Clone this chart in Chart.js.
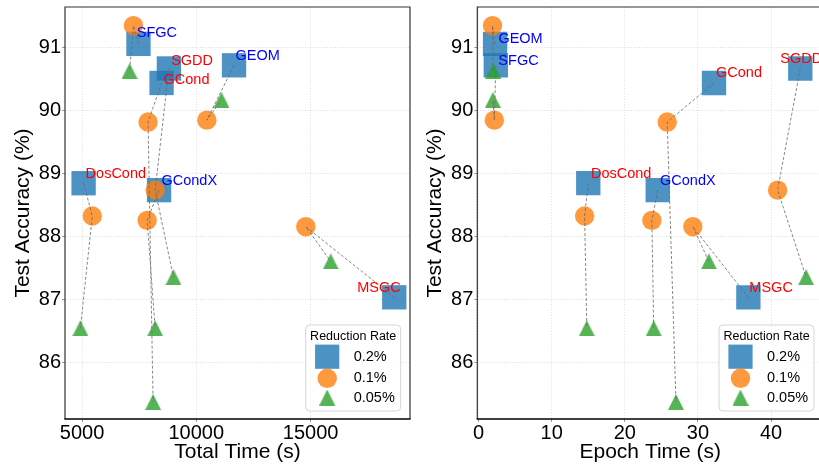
<!DOCTYPE html>
<html>
<head>
<meta charset="utf-8">
<script src="https://cdn.jsdelivr.net/npm/chart.js@4.4.1/dist/chart.umd.min.js"></script>
<style>
  html, body { margin: 0; padding: 0; background: #fff; overflow: hidden; width: 819px; height: 467px; }
  canvas { position: absolute; top: 0; }
  #totalChart { left: 0; }
  #epochChart { left: 410px; }
</style>
</head>
<body>
<canvas id="totalChart" width="412" height="467"></canvas>
<canvas id="epochChart" width="420" height="467"></canvas>
<script>
// Methods and reduction rates
var methods = ["SFGC", "SGDD", "GCond", "GEOM", "DosCond", "GCondX", "MSGC"];
var rates = ["0.2%", "0.1%", "0.05%"];

// Test accuracy (%) for each method at each rate
var acc02 = [91.05, 90.66, 90.43, 90.71, 88.84, 88.73, 87.03];
var acc01 = [91.34, 88.73, 89.81, 89.84, 88.32, 88.25, 88.15];
var acc005 = [90.62, 87.35, 85.37, 90.16, 86.54, 86.54, 87.60];

// Total time (s)
var total02 = [7470, 8800, 8480, 11650, 5070, 8370, 18660];
var total01 = [7250, 8200, 7890, 10460, 5450, 7850, 14790];
var total005 = [7080, 9000, 8110, 11100, 4930, 8200, 15880];

// Epoch time (s)
var epoch02 = [2.25, 44.0, 32.2, 2.35, 15.0, 24.5, 36.9];
var epoch01 = [1.9, 40.9, 25.8, 2.15, 14.5, 23.7, 29.3];
var epoch005 = [2.0, 44.8, 27.0, 1.95, 14.8, 23.95, 31.5];

// Tick values
var totalTicks = [5000, 10000, 15000];
var epochTicks = [0, 10, 20, 30, 40];
var accTicks = [86, 87, 88, 89, 90, 91];

// Styling
var FONT = "'Liberation Sans', Arial, sans-serif";
Chart.defaults.font.family = FONT;
var blueFill = "rgba(31,119,180,0.8)";
var orangeFill = "rgba(255,127,14,0.8)";
var greenFill = "rgba(44,160,44,0.8)";
var labelColor = { SFGC: "#0000ff", GEOM: "#0000ff", GCondX: "#0000ff",
                   SGDD: "#ff0000", GCond: "#ff0000", DosCond: "#ff0000", MSGC: "#ff0000" };

// matplotlib-like centered triangle marker
function makeTriangle(size, color) {
  var c = document.createElement("canvas");
  c.width = size; c.height = size;
  var g = c.getContext("2d");
  g.fillStyle = color;
  g.beginPath();
  g.moveTo(size / 2, 0);
  g.lineTo(size, size);
  g.lineTo(0, size);
  g.closePath();
  g.fill();
  return c;
}
var triangleImg = makeTriangle(16, greenFill);

function points(xs, ys) {
  return xs.map(function (x, i) { return { x: x, y: ys[i] }; });
}

function buildDatasets(x02, x01, x005) {
  var sets = [];
  // dashed connectors first so they end up on top
  methods.forEach(function (m, i) {
    sets.push({
      data: [{ x: x02[i], y: acc02[i] }, { x: x01[i], y: acc01[i] }, { x: x005[i], y: acc005[i] }],
      showLine: true,
      borderColor: "rgba(105,105,105,0.9)",
      borderWidth: 0.9,
      borderDash: [3, 2],
      pointRadius: 0,
      fill: false
    });
  });
  sets.push({ label: rates[2], data: points(x005, acc005), pointStyle: triangleImg, pointRadius: 8, backgroundColor: greenFill, borderWidth: 0 });
  sets.push({ label: rates[1], data: points(x01, acc01), pointStyle: "circle", pointRadius: 9.7, backgroundColor: orangeFill, borderWidth: 0 });
  sets.push({ label: rates[0], data: points(x02, acc02), pointStyle: "rect", pointRadius: 17.2, backgroundColor: blueFill, borderWidth: 0 });
  return sets;
}

// Frame, method labels and legend
var decorPlugin = {
  id: "decor",
  afterDatasetsDraw: function (chart) {
    var o = chart.options.plugins.decor;
    var ctx = chart.ctx;
    var xs = chart.scales.x, ys = chart.scales.y;
    ctx.save();
    ctx.font = "14.5px " + FONT;
    ctx.textAlign = "left";
    ctx.textBaseline = "middle";
    methods.forEach(function (m, i) {
      var off = o.labelOffsets[m];
      ctx.fillStyle = labelColor[m];
      ctx.fillText(m, xs.getPixelForValue(o.xs[i]) + off[0], ys.getPixelForValue(acc02[i]) + off[1]);
    });
    ctx.restore();
  },
  afterDraw: function (chart) {
    var ctx = chart.ctx;
    var a = chart.chartArea;
    ctx.save();
    // legend
    var w = 95, h = 86;
    var right = a.right - 9.3, bottom = a.bottom - 8;
    var left = right - w, top = bottom - h;
    var r = 4;
    ctx.beginPath();
    ctx.moveTo(left + r, top);
    ctx.arcTo(right, top, right, bottom, r);
    ctx.arcTo(right, bottom, left, bottom, r);
    ctx.arcTo(left, bottom, left, top, r);
    ctx.arcTo(left, top, right, top, r);
    ctx.closePath();
    ctx.fillStyle = "rgba(255,255,255,0.85)";
    ctx.fill();
    ctx.strokeStyle = "#d6d6d6";
    ctx.lineWidth = 1;
    ctx.stroke();
    ctx.fillStyle = "#000";
    ctx.textAlign = "center";
    ctx.textBaseline = "middle";
    ctx.font = "12.5px " + FONT;
    ctx.fillText("Reduction Rate", left + w / 2, top + 11.5);
    var mx = left + 21.5, tx = left + 48;
    var rowY = [top + 31.7, top + 53.3, top + 72.5];
    ctx.fillStyle = blueFill;
    ctx.fillRect(mx - 12.1, rowY[0] - 12.1, 24.2, 24.2);
    ctx.fillStyle = orangeFill;
    ctx.beginPath();
    ctx.arc(mx, rowY[1], 9.7, 0, Math.PI * 2);
    ctx.fill();
    ctx.drawImage(triangleImg, mx - 8, rowY[2] - 8);
    ctx.fillStyle = "#000";
    ctx.textAlign = "left";
    ctx.font = "14.5px " + FONT;
    rates.forEach(function (t, i) { ctx.fillText(t, tx, rowY[i]); });
    // frame
    ctx.strokeStyle = "#333";
    ctx.lineWidth = 1.2;
    ctx.beginPath();
    ctx.moveTo(a.left, a.bottom);
    ctx.lineTo(a.left, a.top);
    ctx.lineTo(a.right, a.top);
    ctx.lineTo(a.right, a.bottom);
    ctx.stroke();
    ctx.strokeStyle = "#000";
    ctx.lineWidth = 1.6;
    ctx.beginPath();
    ctx.moveTo(a.left - 0.6, a.bottom);
    ctx.lineTo(a.right + 0.6, a.bottom);
    ctx.stroke();
    ctx.restore();
  }
};

function noPad(s) {
  s.paddingLeft = 0; s.paddingRight = 0; s.paddingTop = 0; s.paddingBottom = 0;
}

function makeChart(id, cfg) {
  return new Chart(document.getElementById(id).getContext("2d"), {
    type: "scatter",
    data: { datasets: buildDatasets(cfg.x02, cfg.x01, cfg.x005) },
    options: {
      responsive: false,
      animation: false,
      events: [],
      layout: { autoPadding: false, padding: { left: 0, right: cfg.padRight, top: 7, bottom: 0 } },
      plugins: {
        legend: { display: false },
        tooltip: { enabled: false },
        decor: { labelOffsets: cfg.labelOffsets, xs: cfg.x02 }
      },
      scales: {
        x: {
          type: "linear",
          min: cfg.xMin,
          max: cfg.xMax,
          afterBuildTicks: function (s) { s.ticks = cfg.xTicks.map(function (v) { return { value: v }; }); },
          afterFit: function (s) { s.height = 48; noPad(s); },
          ticks: { font: { size: 20 }, color: "#000", padding: -1, maxRotation: 0, callback: function (v) { return String(v); } },
          grid: { color: "#d4d4d4", lineWidth: 0.8, tickLength: 3, tickColor: "#999", tickWidth: 1 },
          border: { display: false, dash: [1, 1.7] },
          title: { display: true, text: cfg.xTitle, color: "#000", font: { size: 21 }, padding: { top: 0, bottom: 2.4 } }
        },
        y: {
          type: "linear",
          min: 85.1,
          max: 91.635,
          afterBuildTicks: function (s) { s.ticks = accTicks.map(function (v) { return { value: v }; }); },
          afterFit: function (s) { s.width = cfg.yWidth; noPad(s); },
          ticks: { font: { size: 20 }, color: "#000", padding: 1, callback: function (v) { return String(v); } },
          grid: { color: "#d4d4d4", lineWidth: 0.8, tickLength: 3, tickColor: "#999", tickWidth: 1 },
          border: { display: false, dash: [1, 1.7] },
          title: { display: true, text: "Test Accuracy (%)", color: "#000", font: { size: 21 }, padding: { top: cfg.yTitlePad, bottom: 0 } }
        }
      }
    },
    plugins: [decorPlugin]
  });
}

makeChart("totalChart", {
  x02: total02, x01: total01, x005: total005,
  xMin: 4256, xMax: 19348, xTicks: totalTicks, xTitle: "Total Time (s)",
  padRight: 2, yWidth: 65, yTitlePad: 10.7,
  labelOffsets: { SFGC: [-1.7, -11], SGDD: [2.3, -7.7], GCond: [2, -3.3], GEOM: [1.4, -9.3],
                  DosCond: [2, -9], GCondX: [2.4, -9.3], MSGC: [-37, -9.6] }
});

makeChart("epochChart", {
  x02: epoch02, x01: epoch01, x005: epoch005,
  xMin: -0.18, xMax: 47.15, xTicks: epochTicks, xTitle: "Epoch Time (s)",
  padRight: 6.7, yWidth: 67.3, yTitlePad: 12.4,
  labelOffsets: { SFGC: [3.3, 16.7], GEOM: [2.6, -26], SGDD: [-20, -9], GCond: [2, -10],
                  DosCond: [2.7, -9], GCondX: [2.3, -9.3], MSGC: [1, -9.6] }
});
</script>
</body>
</html>
